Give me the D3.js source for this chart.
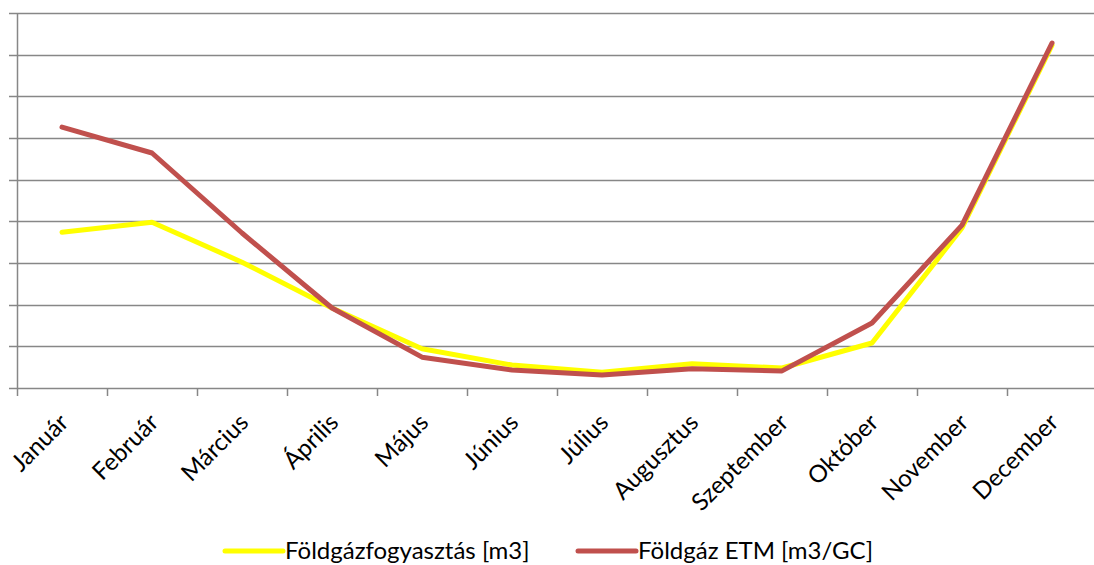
<!DOCTYPE html>
<html>
<head>
<meta charset="utf-8">
<script src="https://cdn.jsdelivr.net/npm/d3@7"></script>
<style>
body { margin: 0; background: #fff; }
text { font-family: Lato, "Open Sans", sans-serif; fill: #000; }
</style>
</head>
<body>
<script>
var months = ["Január","Február","Március","Április","Május","Június","Július","Augusztus","Szeptember","Október","November","December"];
var fogyasztas = [3.74, 3.98, 3.02, 1.92, 0.94, 0.55, 0.38, 0.58, 0.48, 1.08, 3.84, 8.23];
var etm = [6.26, 5.64, 3.72, 1.92, 0.74, 0.43, 0.31, 0.46, 0.41, 1.56, 3.91, 8.28];
var yTicks = [0,1,2,3,4,5,6,7,8,9];
var seriesNames = ["Földgázfogyasztás [m3]", "Földgáz ETM [m3/GC]"];
var seriesColors = ["#ffff00", "#c0504d"];

var w = 1094, h = 565;
var plotLeft = 17, plotRight = 1097, plotTop = 13, plotBottom = 388;

var svg = d3.select("body").append("svg")
	.attr("width", w)
	.attr("height", h);

var xScale = d3.scaleBand()
	.domain(months)
	.range([plotLeft, plotRight]);

var yScale = d3.scaleLinear()
	.domain([0, 9])
	.range([plotBottom, plotTop]);

// gridlines
svg.append("g")
	.selectAll("line")
	.data(yTicks)
	.enter()
	.append("line")
	.attr("x1", plotLeft - 8)
	.attr("x2", w)
	.attr("y1", function(d){ return Math.round(yScale(d)) + 0.5; })
	.attr("y2", function(d){ return Math.round(yScale(d)) + 0.5; })
	.attr("stroke", "#878787")
	.attr("stroke-width", 1.5);

// y axis line
svg.append("line")
	.attr("x1", plotLeft + 0.5).attr("x2", plotLeft + 0.5)
	.attr("y1", plotTop).attr("y2", plotBottom + 8)
	.attr("stroke", "#878787")
	.attr("stroke-width", 1.5);

// x ticks
var tickPos = months.map(function(m){ return xScale(m); });
svg.append("g")
	.selectAll("line")
	.data(tickPos.slice(1))
	.enter()
	.append("line")
	.attr("x1", function(d){ return Math.round(d) + 0.5; })
	.attr("x2", function(d){ return Math.round(d) + 0.5; })
	.attr("y1", plotBottom)
	.attr("y2", plotBottom + 8)
	.attr("stroke", "#878787")
	.attr("stroke-width", 1.5);

// x labels
svg.append("g")
	.selectAll("text")
	.data(months)
	.enter()
	.append("text")
	.attr("transform", function(d){
		var x = xScale(d) + xScale.bandwidth() / 2 + 2;
		return "translate(" + x + "," + (plotBottom + 30) + ") rotate(-45)";
	})
	.attr("text-anchor", "end")
	.attr("dy", "0.35em")
	.style("font-size", "24px")
	.text(function(d){ return d; });

var line = d3.line()
	.x(function(d, i){ return xScale(months[i]) + xScale.bandwidth() / 2; })
	.y(function(d){ return yScale(d); });

[fogyasztas, etm].forEach(function(s, k){
	svg.append("path")
		.datum(s)
		.attr("d", line)
		.attr("fill", "none")
		.attr("stroke", seriesColors[k])
		.attr("stroke-width", 5)
		.attr("stroke-linejoin", "round")
		.attr("stroke-linecap", "round");
});

// legend
var legendX = [225, 578];
var legend = svg.append("g")
	.selectAll("g")
	.data(seriesNames)
	.enter()
	.append("g")
	.attr("transform", function(d, i){ return "translate(" + legendX[i] + ",551)"; });

legend.append("line")
	.attr("x1", 0).attr("x2", 58)
	.attr("y1", 0).attr("y2", 0)
	.attr("stroke", function(d, i){ return seriesColors[i]; })
	.attr("stroke-width", 5)
	.attr("stroke-linecap", "round");

legend.append("text")
	.attr("x", 60)
	.attr("dy", "0.35em")
	.style("font-size", "24px")
	.text(function(d){ return d; });
</script>
</body>
</html>
